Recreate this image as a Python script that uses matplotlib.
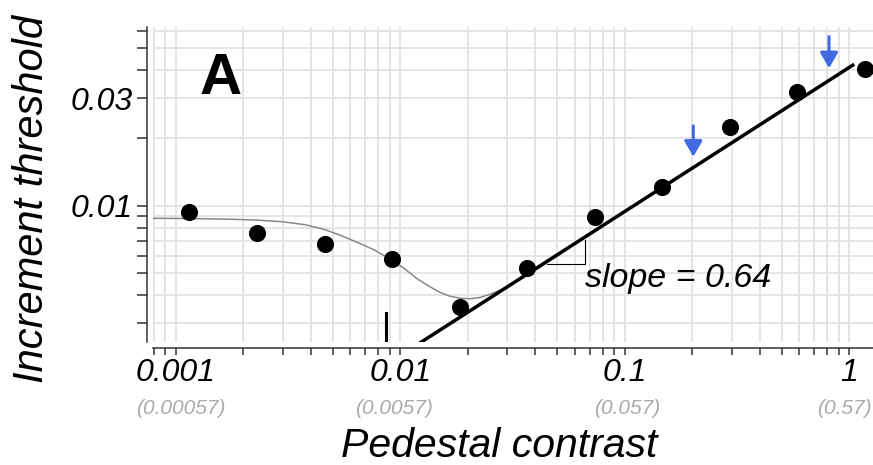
import matplotlib
matplotlib.use('Agg')
import matplotlib.pyplot as plt
from matplotlib.ticker import FixedLocator, FixedFormatter, NullFormatter

plt.rcParams['font.family'] = ['Liberation Sans', 'DejaVu Sans']

# measured thresholds
pedestal = [0.00115, 0.0023, 0.0046, 0.0092, 0.0184, 0.0367, 0.0734, 0.147, 0.294, 0.587, 1.175]
threshold = [0.00938, 0.00756, 0.00676, 0.00580, 0.00355, 0.00528, 0.00891, 0.0121, 0.0224, 0.0320, 0.0406]

# model curve (grey)
curve_x = [0.00079, 0.001146, 0.001658, 0.002302, 0.003006, 0.003767, 0.004578, 0.005393,
           0.006422, 0.007566, 0.009195, 0.0105, 0.01188, 0.01358, 0.01504, 0.01667,
           0.01847, 0.02046, 0.02267, 0.02512, 0.02783, 0.03084, 0.03417, 0.04195, 0.05151]
curve_y = [0.00879, 0.00877, 0.00872, 0.00863, 0.00848, 0.00823, 0.00785, 0.00740,
           0.00688, 0.00640, 0.00574, 0.00523, 0.00474, 0.00436, 0.00412, 0.00396,
           0.00388, 0.00386, 0.00391, 0.00404, 0.00421, 0.00444, 0.00470, 0.00533, 0.00609]

# straight-line fit (slope 0.64 in log-log)
fit_x = [0.0118, 1.037]
fit_y = [0.0024, 0.0421]
slope_label = 'slope = 0.64'
tri_x = [0.04494, 0.06656, 0.06656]
tri_y = [0.005489, 0.005489, 0.00704]

# small vertical marker near 0.0086
marker_x = [0.00862, 0.00862]
marker_y = [0.002543, 0.003326]

# blue arrows: (x, start y, tip y)
arrow_x = [0.202, 0.813]
arrow_top = [0.0226, 0.0564]
arrow_tip = [0.0165, 0.0408]

x_major = [0.001, 0.01, 0.1, 1]
x_major_labels = ['0.001', '0.01', '0.1', '1']
x_alt_labels = ['(0.00057)', '(0.0057)', '(0.057)', '(0.57)']
x_minor = [m * 10.0 ** e for e in range(-4, 1) for m in range(2, 10)]
y_major = [0.01, 0.03]
y_major_labels = ['0.01', '0.03']
y_minor = [0.003, 0.004, 0.005, 0.006, 0.007, 0.008, 0.009, 0.02, 0.04, 0.05, 0.06]


def plot_threshold_vs_pedestal(output_filename):
    fig = plt.figure(figsize=(8.73, 4.65), dpi=100)
    ax = fig.add_axes([153 / 873, 123 / 465, 720 / 873, 315 / 465])
    ax.set_xscale('log')
    ax.set_yscale('log')
    ax.set_xlim(0.000792, 1.276)
    ax.set_ylim(0.00248, 0.0622)

    # ticks
    ax.xaxis.set_major_locator(FixedLocator(x_major))
    ax.xaxis.set_major_formatter(FixedFormatter(x_major_labels))
    ax.xaxis.set_minor_locator(FixedLocator(x_minor))
    ax.xaxis.set_minor_formatter(NullFormatter())
    ax.yaxis.set_major_locator(FixedLocator(y_major))
    ax.yaxis.set_major_formatter(FixedFormatter(y_major_labels))
    ax.yaxis.set_minor_locator(FixedLocator(y_minor))
    ax.yaxis.set_minor_formatter(NullFormatter())

    ax.grid(True, which='both', color='#e3e3e3', linewidth=1.3)
    ax.set_axisbelow(True)

    for side in ['top', 'right']:
        ax.spines[side].set_visible(False)
    for side in ['left', 'bottom']:
        ax.spines[side].set_position(('outward', 4.3))
        ax.spines[side].set_color('#333333')
        ax.spines[side].set_linewidth(1.1)

    ax.tick_params(axis='x', which='both', length=5, width=1.1, color='#333333', pad=2.5)
    ax.tick_params(axis='y', which='both', length=7, width=1.1, color='#333333', pad=3)
    for lab in ax.get_xticklabels() + ax.get_yticklabels():
        lab.set_fontsize(23)
        lab.set_fontstyle('italic')

    # secondary grey labels under the x ticks (small horizontal nudges as in the original)
    label_dx = [3.5, -4.5, 1.5, -3.5]
    for xv, txt, dx in zip(x_major, x_alt_labels, label_dx):
        ax.annotate(txt, xy=(xv, -0.21), xycoords=ax.get_xaxis_transform(),
                    xytext=(dx, 0), textcoords='offset points',
                    ha='center', va='center', fontsize=15, style='italic', color='#aaaaaa')

    # model curve, fit line, data
    ax.plot(curve_x, curve_y, color='#888888', linewidth=1.1, zorder=3)
    ax.plot(fit_x, fit_y, color='black', linewidth=2.5, zorder=4)
    ax.plot(tri_x, tri_y, color='black', linewidth=0.8, zorder=4)
    ax.plot(marker_x, marker_y, color='black', linewidth=2.2, zorder=4)
    ax.plot(pedestal, threshold, 'o', color='black', markersize=11.3, zorder=5, clip_on=False)

    for xv, y0, y1 in zip(arrow_x, arrow_top, arrow_tip):
        ax.annotate('', xy=(xv, y1), xytext=(xv, y0),
                    arrowprops=dict(arrowstyle='-|>,head_width=0.54,head_length=0.94',
                                    mutation_scale=10, color='#4169e1', lw=2.2,
                                    shrinkA=0, shrinkB=0))

    ax.text(tri_x[2], 0.004365, slope_label, ha='left', va='baseline', fontsize=24.5, style='italic')
    ax.text(0.0653, 0.787, 'A', transform=ax.transAxes, ha='left', va='baseline',
            fontsize=42, fontweight='bold')

    ax.set_xlabel('Pedestal contrast', fontsize=29.5, style='italic')
    ax.xaxis.label.set_va('baseline')
    ax.xaxis.set_label_coords(0.4806, -0.365)
    ax.set_ylabel('Increment threshold', fontsize=30, style='italic')
    ax.yaxis.label.set_va('baseline')
    ax.yaxis.set_label_coords(-0.1528, 0.454)

    fig.savefig(output_filename, dpi=100)
    plt.close(fig)


if __name__ == "__main__":
    plot_threshold_vs_pedestal('out.png')
